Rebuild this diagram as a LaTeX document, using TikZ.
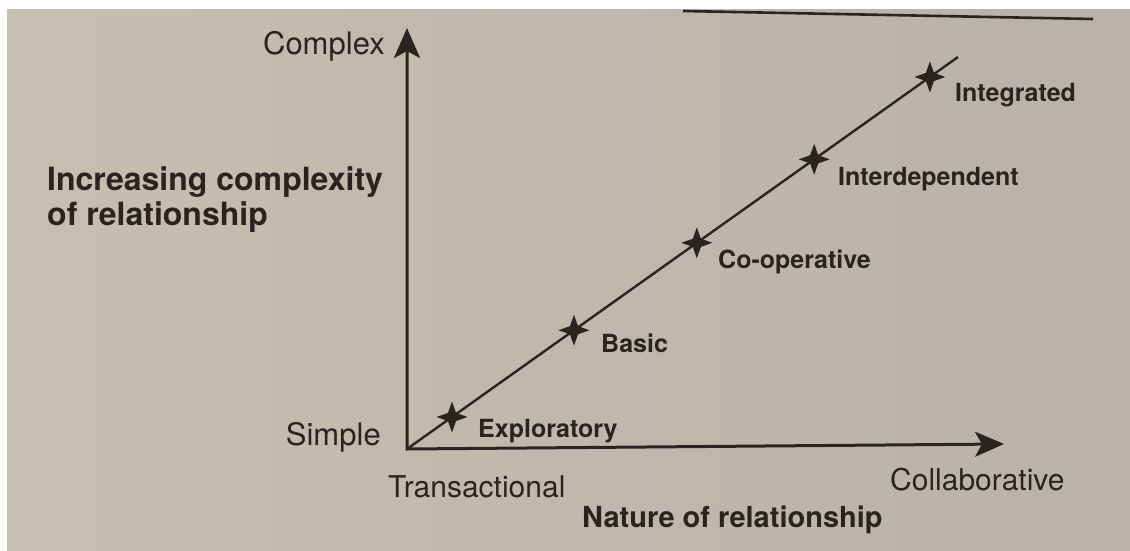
\documentclass[tikz,border=0pt]{standalone}
\usepackage{fontspec}
\setmainfont{TeX Gyre Heros}
\usetikzlibrary{arrows.meta,shapes.geometric}

\definecolor{paperL}{HTML}{C8BEB0}
\definecolor{paperR}{HTML}{B9B2AA}
\definecolor{ink}{HTML}{2A2420}

\tikzset{
  axis/.style={draw=ink, line width=3pt, line join=miter},
  diag/.style={draw=ink, line width=2.4pt},
  starmark/.style={shape=star, star points=4, star point ratio=2.7,
    fill=ink, draw=none, inner sep=0pt, minimum size=31pt},
  plainlbl/.style={text=ink, inner sep=0pt, font=\fontsize{31}{36}\selectfont},
  stagelbl/.style={text=ink, inner sep=0pt, font=\fontsize{25}{30}\selectfont\bfseries, anchor=base west},
  titlelbl/.style={text=ink, inner sep=0pt, font=\fontsize{32}{35}\selectfont\bfseries},
}

\begin{document}
\begin{tikzpicture}[x=1pt, y=-1pt]
  \useasboundingbox (0,0) rectangle (1130,551);
  % page
  \fill[white] (0,0) rectangle (1130,551);
  \shade[left color=paperL, right color=paperR] (7,10) rectangle (1130,551);
  % rule at the top of the page
  \draw[ink, line width=2.6pt] (683,11) -- (1093,19);

  % axes
  \coordinate (O) at (407,449);
  \coordinate (Vtop) at (407,28);
  \coordinate (Htip) at (1004,444);
  \coordinate (Dtop) at (958,57);
  \draw[axis, {Stealth[length=30pt,width=26pt,inset=7pt]}-{Stealth[length=29pt,width=25pt,inset=7pt]}]
    (Vtop) -- (O) -- (Htip);

  % diagonal with the stages
  \draw[diag] (O) -- (Dtop);
  \path (O) -- (Dtop)
    node[starmark, pos=0.0817] (s1) {}
    node[starmark, pos=0.303]  (s2) {}
    node[starmark, pos=0.526]  (s3) {}
    node[starmark, pos=0.739]  (s4) {}
    node[starmark, pos=0.949]  (s5) {};

  \node[stagelbl] (l1) at (478,437) {Exploratory};
  \node[stagelbl] (l2) at (601,352) {Basic};
  \node[stagelbl] (l3) at (718,268) {Co-operative};
  \node[stagelbl] (l4) at (838,185) {Interdependent};
  \node[stagelbl] (l5) at (955,102) {Integrated};

  % axis labels
  \node[plainlbl, anchor=base east] (cx) at (385,55) {Complex};
  \node[plainlbl, anchor=base east] (sp) at (381,445) {Simple};
  \node[plainlbl, anchor=base west, font=\fontsize{30}{36}\selectfont] (tr) at (388,497) {Transactional};
  \node[plainlbl, anchor=base west, font=\fontsize{30}{36}\selectfont] (co) at (890,490) {Collaborative};

  \node[titlelbl, anchor=base west] (yt1) at (47,190) {Increasing complexity};
  \node[titlelbl, anchor=base west] (yt2) at (47,225) {of relationship};
  \node[titlelbl, anchor=base west, font=\fontsize{29}{34}\selectfont\bfseries] (xt) at (582,527)
    {Nature of relationship};
\end{tikzpicture}
\end{document}
